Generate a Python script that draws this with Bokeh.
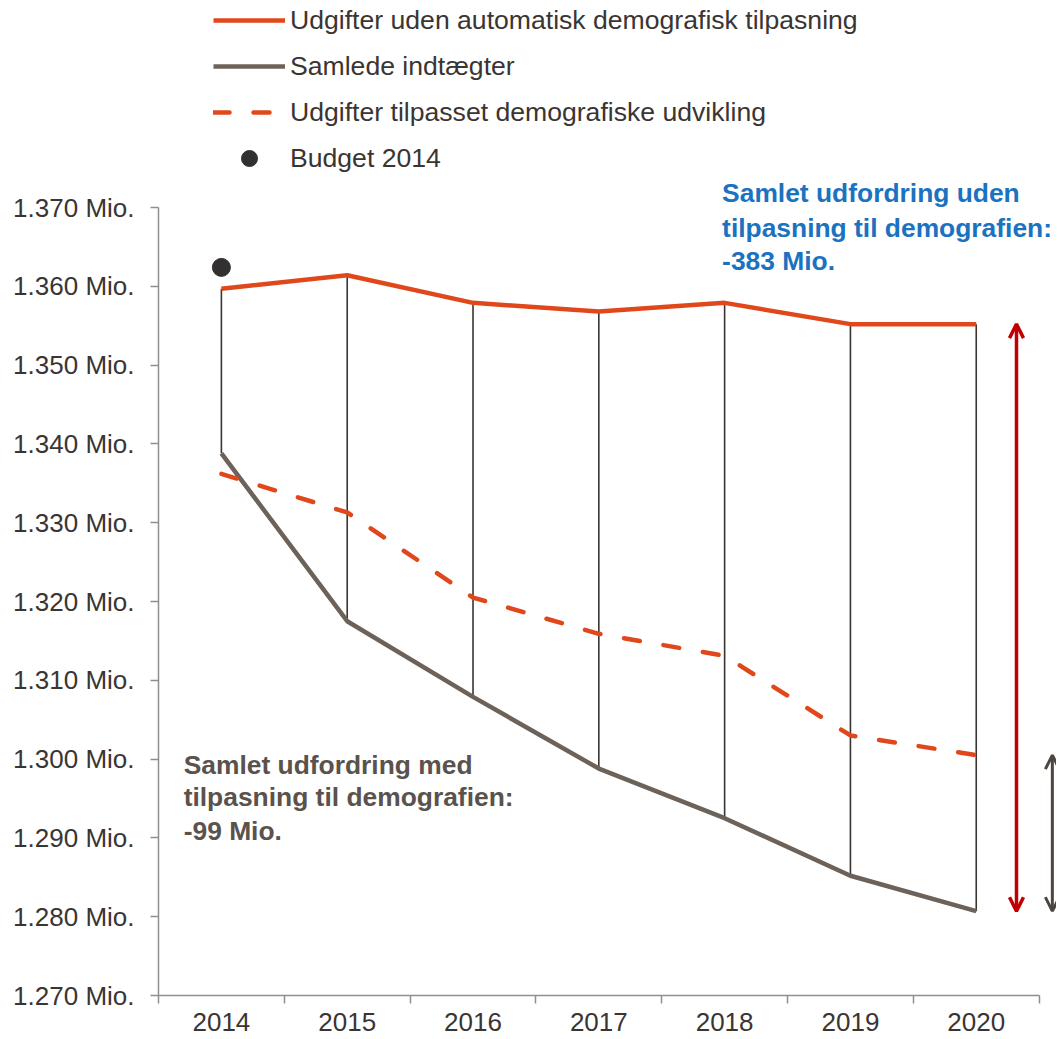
from bokeh.plotting import figure
from bokeh.models import (Range1d, FixedTicker, Legend, LegendItem, Label, Arrow, OpenHead)
from bokeh.embed import file_html
from bokeh.resources import INLINE

# ---- data (Mio. kr.) ----
years = ["2014", "2015", "2016", "2017", "2018", "2019", "2020"]
udgifter_uden = [1359.7, 1361.4, 1357.9, 1356.8, 1357.9, 1355.2, 1355.2]
samlede_indtaegter = [1338.8, 1317.5, 1307.9, 1298.8, 1292.5, 1285.2, 1280.7]
udgifter_tilpasset = [1336.2, 1331.3, 1320.5, 1315.9, 1313.1, 1303.0, 1300.5]
budget_2014 = [1362.4]
y_ticks = [1270, 1280, 1290, 1300, 1310, 1320, 1330, 1340, 1350, 1360, 1370]
y_tick_labels = ["1.270 Mio.", "1.280 Mio.", "1.290 Mio.", "1.300 Mio.", "1.310 Mio.",
                 "1.320 Mio.", "1.330 Mio.", "1.340 Mio.", "1.350 Mio.", "1.360 Mio.",
                 "1.370 Mio."]
txt_uden = ["Samlet udfordring uden", "tilpasning til demografien:", "-383 Mio."]
txt_med = ["Samlet udfordring med", "tilpasning til demografien:", "-99 Mio."]

FONT = "Liberation Sans"
ORANGE = "#E0481B"
BROWN = "#6C6259"
DARK = "#3A3430"
TXT = "#3A3532"
BLUE = "#1B72C0"

xs = [i + 0.5 for i in range(len(years))]

FRAME_H = 995
FRAME_W = 898
p = figure(frame_width=FRAME_W, frame_height=FRAME_H, output_backend="svg", toolbar_location=None,
           x_range=Range1d(0, 7.138), y_range=Range1d(1270, 1396.27),
           min_border_left=158, min_border_right=0, min_border_top=0, min_border_bottom=44)
p.outline_line_color = None
p.xgrid.visible = False
p.ygrid.visible = False
p.background_fill_color = "white"

# drop lines
p.segment(x0=xs, y0=udgifter_uden, x1=xs, y1=samlede_indtaegter, line_color=DARK, line_width=1.6)

r_uden = p.line(xs, udgifter_uden, line_color=ORANGE, line_width=4.5, line_join="round")
r_saml = p.line(xs, samlede_indtaegter, line_color=BROWN, line_width=4.5, line_join="round")
r_tilp = p.line(xs, udgifter_tilpasset, line_color=ORANGE, line_width=4.5, line_dash="16 24",
                line_cap="round", line_join="round")
r_bud = p.scatter([xs[0]], budget_2014, size=18, fill_color="#333030", line_color="#333030")

# arrows
p.add_layout(Arrow(x_start=6.82, y_start=udgifter_uden[-1], x_end=6.82, y_end=samlede_indtaegter[-1],
                   line_color="#C00000", line_width=3.5,
                   start=OpenHead(size=14, line_color="#C00000", line_width=3.5),
                   end=OpenHead(size=14, line_color="#C00000", line_width=3.5)))
p.add_layout(Arrow(x_start=7.105, y_start=udgifter_tilpasset[-1], x_end=7.105, y_end=samlede_indtaegter[-1],
                   line_color="#4D4640", line_width=3,
                   start=OpenHead(size=14, line_color="#4D4640", line_width=3),
                   end=OpenHead(size=14, line_color="#4D4640", line_width=3)))

# annotations
for t, yy in zip(txt_uden, [1371.9, 1367.46, 1363.15]):
    p.add_layout(Label(x=4.48, y=yy, text=t, text_font=FONT, text_font_size="26.4px",
                       text_font_style="bold", text_color=BLUE, text_baseline="middle"))
for t, yy in zip(txt_med, [1299.26, 1295.2, 1290.9]):
    p.add_layout(Label(x=0.2, y=yy, text=t, text_font=FONT, text_font_size="26.4px",
                       text_font_style="bold", text_color="#5A524C", text_baseline="middle"))

# axes
AX = "#8F8F8F"
p.yaxis.ticker = FixedTicker(ticks=y_ticks)
p.yaxis.major_label_overrides = {v: s for v, s in zip(y_ticks, y_tick_labels)}
p.yaxis.bounds = (1270, 1370)
p.yaxis.axis_line_color = AX
p.yaxis.axis_line_width = 1.5
p.yaxis.major_tick_line_color = AX
p.yaxis.major_tick_line_width = 1.5
p.yaxis.major_tick_out = 8
p.yaxis.major_tick_in = 0
p.yaxis.minor_tick_line_color = None
p.yaxis.major_label_standoff = 16
p.yaxis.major_label_text_font = FONT
p.yaxis.major_label_text_font_size = "26px"
p.yaxis.major_label_text_color = TXT

p.xaxis.ticker = FixedTicker(ticks=xs, minor_ticks=list(range(len(years) + 1)))
p.xaxis.major_label_overrides = {x: y for x, y in zip(xs, years)}
p.xaxis.bounds = (0, len(years))
p.xaxis.axis_line_color = AX
p.xaxis.axis_line_width = 1.5
p.xaxis.major_tick_line_color = None
p.xaxis.major_tick_out = 8
p.xaxis.major_tick_in = 0
p.xaxis.minor_tick_line_color = AX
p.xaxis.minor_tick_line_width = 1.5
p.xaxis.minor_tick_out = 8
p.xaxis.minor_tick_in = 0
p.xaxis.major_label_standoff = 9
p.xaxis.major_label_text_font = FONT
p.xaxis.major_label_text_font_size = "26px"
p.xaxis.major_label_text_color = TXT

# legend
legend = Legend(items=[
    LegendItem(label="Udgifter uden automatisk demografisk tilpasning", renderers=[r_uden]),
    LegendItem(label="Samlede indtægter", renderers=[r_saml]),
    LegendItem(label="Udgifter tilpasset demografiske udvikling", renderers=[r_tilp]),
    LegendItem(label="Budget 2014", renderers=[r_bud]),
], location=(55, FRAME_H - 178), orientation="vertical",
    border_line_color=None, background_fill_alpha=0, padding=0, margin=0, spacing=6,
    glyph_width=72, glyph_height=40, label_height=26, label_standoff=5,
    label_text_font=FONT, label_text_font_size="26.6px", label_text_color=TXT)
p.add_layout(legend, "center")

open("out.html", "w").write(file_html(p, INLINE))
